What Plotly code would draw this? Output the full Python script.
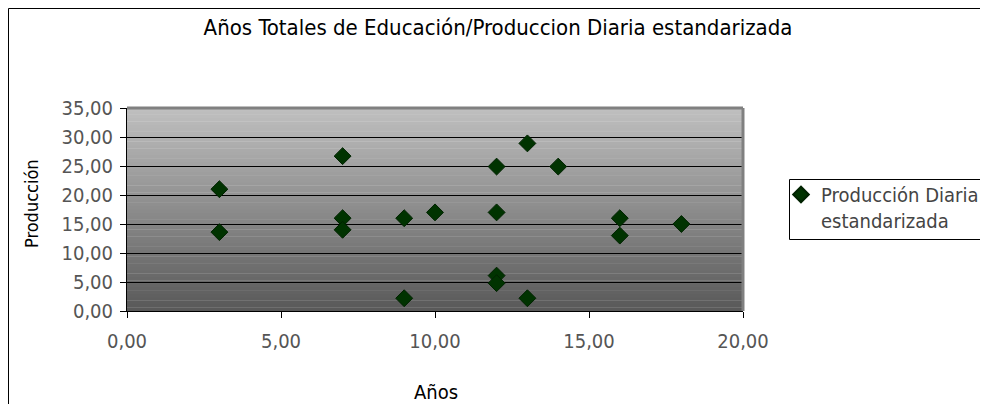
import plotly.graph_objects as go

# Data
anos = [3, 3, 7, 7, 7, 9, 9, 10, 12, 12, 12, 12, 13, 13, 14, 16, 16, 18]
produccion = [21.0, 13.6, 26.7, 16.0, 14.0, 16.0, 2.2, 17.0, 24.9, 17.0, 6.1, 4.8, 28.9, 2.2, 24.9, 16.0, 13.0, 15.0]
serie_nombre = "Producción Diaria<br>estandarizada"
titulo = "Años Totales de Educación/Produccion Diaria estandarizada"
x_ticks = [0, 5, 10, 15, 20]
y_ticks = [0, 5, 10, 15, 20, 25, 30, 35]

FONT = "DejaVu Sans Condensed, sans-serif"

# page pixel -> plot-area paper fraction (plot area spans x 127..743, y 108..311 on the page)
def px(x):
    return (x - 127) / 616.0

def py(y):
    return (311 - y) / 203.0

fig = go.Figure()
fig.add_trace(go.Scatter(
    x=anos, y=produccion, mode="markers", name=serie_nombre,
    marker=dict(symbol="diamond", size=13, color="#003300",
                line=dict(color="#002200", width=1)),
))

# gradient plot background (strips)
n = 60
shapes = []
top, bot = (192, 192, 192), (88, 88, 88)
for i in range(n):
    t = (i + 0.5) / n
    c = tuple(int(round(bot[k] + (top[k] - bot[k]) * t)) for k in range(3))
    shapes.append(dict(type="rect", xref="x domain", yref="y domain",
                       x0=0, x1=1, y0=i / n, y1=(i + 1) / n + 0.002,
                       fillcolor="rgb(%d,%d,%d)" % c, line=dict(width=0),
                       layer="below"))
# plot area grey frame (top/right)
shapes.append(dict(type="line", xref="x domain", yref="y domain", x0=0, x1=1, y0=1, y1=1,
                   line=dict(color="#808080", width=3), layer="above"))
shapes.append(dict(type="line", xref="x domain", yref="y domain", x0=1, x1=1, y0=0, y1=1,
                   line=dict(color="#808080", width=3), layer="above"))
# outer chart border
shapes.append(dict(type="rect", xref="paper", yref="paper",
                   x0=px(8.5), x1=px(1000), y0=py(420), y1=py(8.5),
                   line=dict(color="black", width=1), fillcolor="rgba(0,0,0,0)"))
# legend box
shapes.append(dict(type="rect", xref="paper", yref="paper",
                   x0=px(789.5), x1=px(1000), y0=py(239.5), y1=py(179.5),
                   line=dict(color="black", width=1), fillcolor="white"))

fig.update_layout(
    width=980, height=396,
    margin=dict(l=119, r=245, t=100, b=93, autoexpand=False),
    paper_bgcolor="white", plot_bgcolor="rgba(0,0,0,0)",
    separators=",.",
    font=dict(family=FONT, color="#333333"),
    title=dict(text=titulo, x=px(498), xref="paper", xanchor="center",
               y=1 - 19 / 396, yref="container", yanchor="middle",
               font=dict(family=FONT, size=22, color="black")),
    xaxis=dict(range=[0, 20], tickvals=x_ticks, tickformat=".2f",
               showgrid=False, zeroline=False, showline=True, linecolor="black", linewidth=1,
               ticks="outside", ticklen=6, tickcolor="black",
               ticklabelstandoff=6,
               tickfont=dict(family=FONT, size=20, color="#555555")),
    yaxis=dict(range=[0, 35], tickvals=y_ticks, tickformat=".2f",
               showgrid=True, gridcolor="black", gridwidth=1, zeroline=False,
               showline=True, linecolor="black", linewidth=1,
               ticks="outside", ticklen=6, tickcolor="black",
               ticklabelstandoff=3,
               tickfont=dict(family=FONT, size=20, color="#555555")),
    showlegend=True,
    legend=dict(x=px(781), y=py(175), xanchor="left", yanchor="top",
                borderwidth=0, bgcolor="rgba(0,0,0,0)", valign="top",
                font=dict(family=FONT, size=20, color="#444444"),
                tracegroupgap=0, itemsizing="constant"),
    shapes=shapes,
    annotations=[
        dict(text="Producción", xref="paper", yref="paper",
             x=px(31), y=py(204), xanchor="center", yanchor="middle",
             textangle=-90, showarrow=False, font=dict(family=FONT, size=18, color="black")),
        dict(text="Años", xref="paper", yref="paper",
             x=px(436), y=py(392), xanchor="center", yanchor="middle",
             showarrow=False, font=dict(family=FONT, size=20, color="black")),
    ],
)

fig.write_html("out.html")
